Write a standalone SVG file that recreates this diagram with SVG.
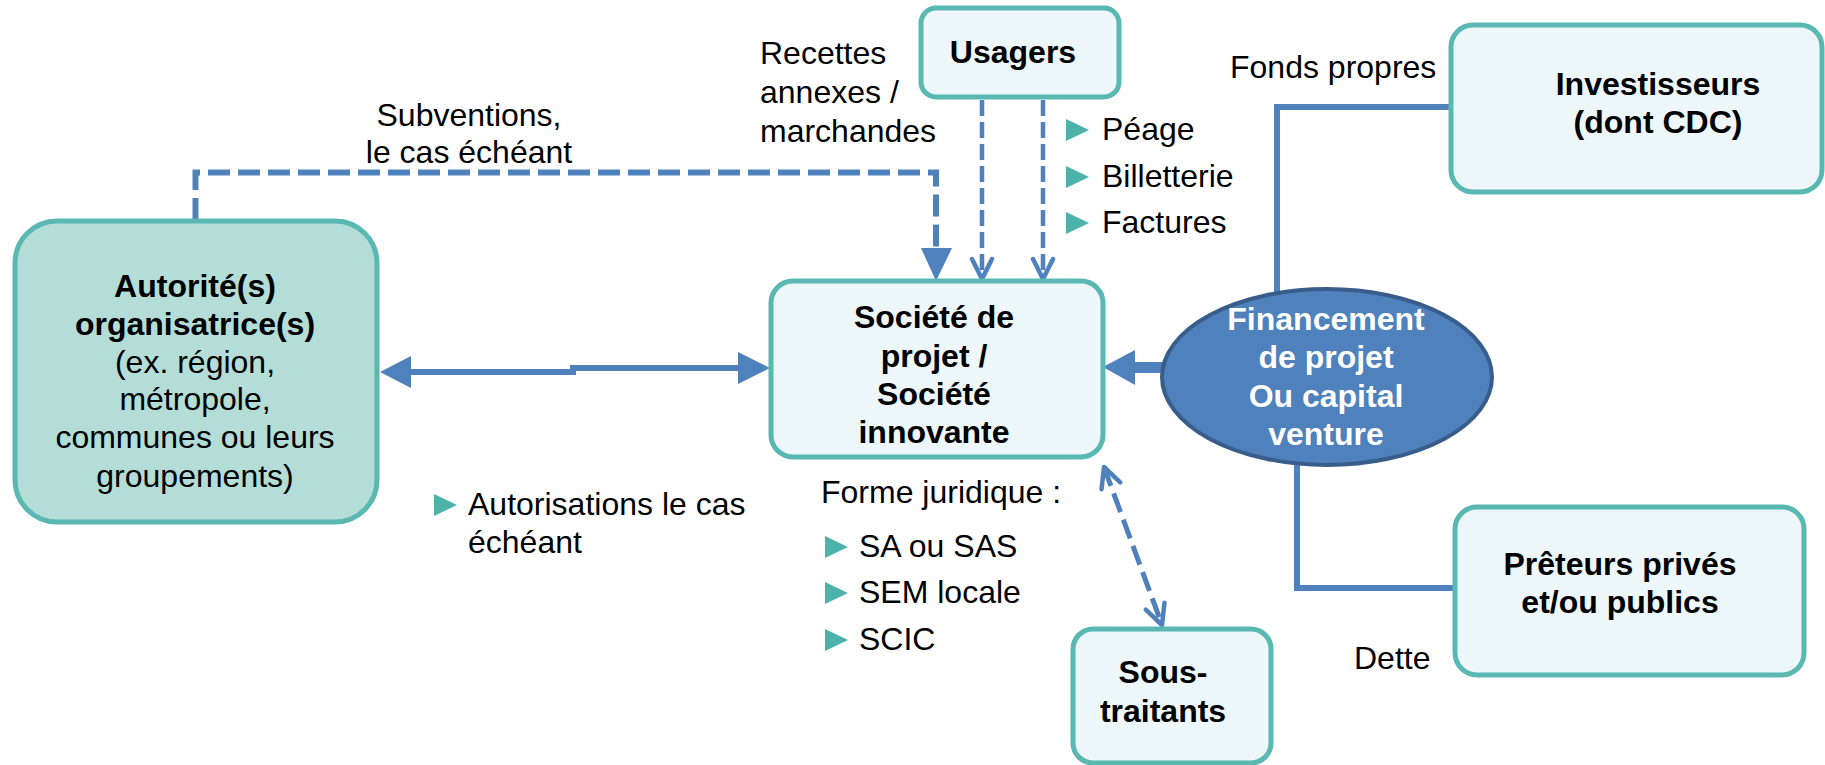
<svg xmlns="http://www.w3.org/2000/svg" width="1825" height="765" viewBox="0 0 1825 765">
<style>
text{font-family:"Liberation Sans",Arial,sans-serif;font-size:32px;fill:#000}
.b{font-weight:bold}
.m{text-anchor:middle}
.w{fill:#fff}
.box{fill:#edf6f9;stroke:#5ab8b2;stroke-width:5}
.auth{fill:#b3ddd6;stroke:#5ab8b2;stroke-width:5}
.solid{fill:none;stroke:#4f81bd;stroke-width:6}
.dash{fill:none;stroke:#4f81bd;stroke-width:6;stroke-dasharray:22 8}
.dashs{fill:none;stroke:#4f81bd;stroke-width:4.5;stroke-dasharray:16 6}
.dashm{fill:none;stroke:#4f81bd;stroke-width:5;stroke-dasharray:20 8}
.head{fill:#4f81bd}
.bul{fill:#4bb3aa}
</style>
<defs>
<marker id="open" viewBox="0 0 26 26" refX="23" refY="13" markerWidth="26" markerHeight="26" markerUnits="userSpaceOnUse" orient="auto-start-reverse">
<path d="M3,3 L23,13 L3,23" fill="none" stroke="#4f81bd" stroke-width="4.5" stroke-linecap="round" stroke-linejoin="round"/>
</marker>
</defs>

<g id="connectors">
<path class="dash" d="M195.5,220 V172.5 H936 V250"/>
<polygon class="head" points="921,248 952,248 936,281"/>
<path class="dashs" d="M982,100 V279" marker-end="url(#open)"/>
<path class="dashs" d="M1043,100 V279" marker-end="url(#open)"/>
<polygon class="head" points="380,372 411,356 411,388"/>
<path class="solid" d="M410,372 H573 V368 H740"/>
<polygon class="head" points="770,368 738,352 738,384"/>
<polygon class="head" points="1103,367 1135,350 1135,385"/>
<rect class="head" x="1134" y="362" width="32" height="11"/>
<path class="solid" d="M1451,107 H1277 V293"/>
<path class="solid" d="M1297,463 V588 H1455"/>
<path class="dashm" d="M1104,467 L1162,625" marker-start="url(#open)" marker-end="url(#open)"/>
</g>

<g id="autorite">
<rect class="auth" x="15" y="221" width="362" height="301" rx="42"/>
<text class="m b" x="195" y="297">Autorité(s)</text>
<text class="m b" x="195" y="335">organisatrice(s)</text>
<text class="m" x="195" y="373">(ex. région,</text>
<text class="m" x="195" y="410">métropole,</text>
<text class="m" x="195" y="448">communes ou leurs</text>
<text class="m" x="195" y="487">groupements)</text>
</g>

<g id="usagers">
<rect class="box" x="921" y="8" width="198" height="89" rx="15"/>
<text class="m b" x="1013" y="63">Usagers</text>
</g>

<g id="societe">
<rect class="box" x="771" y="281" width="332" height="176" rx="22"/>
<text class="m b" x="934" y="328">Société de</text>
<text class="m b" x="934" y="367">projet /</text>
<text class="m b" x="934" y="405">Société</text>
<text class="m b" x="934" y="443">innovante</text>
</g>

<g id="financement">
<ellipse cx="1327" cy="377" rx="165" ry="88" fill="#4f81bd" stroke="#385d8a" stroke-width="4"/>
<text class="m b w" x="1326" y="330">Financement</text>
<text class="m b w" x="1326" y="368">de projet</text>
<text class="m b w" x="1326" y="407">Ou capital</text>
<text class="m b w" x="1326" y="445">venture</text>
</g>

<g id="investisseurs">
<rect class="box" x="1451" y="25" width="371" height="167" rx="22"/>
<text class="m b" x="1658" y="95">Investisseurs</text>
<text class="m b" x="1658" y="133">(dont CDC)</text>
</g>

<g id="preteurs">
<rect class="box" x="1455" y="507" width="349" height="168" rx="22"/>
<text class="m b" x="1620" y="575">Prêteurs privés</text>
<text class="m b" x="1620" y="613">et/ou publics</text>
</g>

<g id="sous-traitants">
<rect class="box" x="1073" y="629" width="198" height="134" rx="20"/>
<text class="m b" x="1163" y="683">Sous-</text>
<text class="m b" x="1163" y="722">traitants</text>
</g>

<g id="labels">
<text class="m" x="469" y="126">Subventions,</text>
<text class="m" x="469" y="163">le cas échéant</text>
<text x="760" y="64">Recettes</text>
<text x="760" y="103">annexes /</text>
<text x="760" y="142">marchandes</text>
<polygon class="bul" points="1066,119 1089,130 1066,141"/>
<text x="1102" y="140">Péage</text>
<polygon class="bul" points="1066,166 1089,177 1066,188"/>
<text x="1102" y="187">Billetterie</text>
<polygon class="bul" points="1066,212 1089,223 1066,234"/>
<text x="1102" y="233">Factures</text>
<text x="1230" y="78">Fonds propres</text>
<polygon class="bul" points="434,494 457,505 434,516"/>
<text x="468" y="515">Autorisations le cas</text>
<text x="468" y="553">échéant</text>
<text x="821" y="503">Forme juridique :</text>
<polygon class="bul" points="825,536 848,547 825,558"/>
<text x="859" y="557">SA ou SAS</text>
<polygon class="bul" points="825,582 848,593 825,604"/>
<text x="859" y="603">SEM locale</text>
<polygon class="bul" points="825,629 848,640 825,651"/>
<text x="859" y="650">SCIC</text>
<text x="1354" y="669">Dette</text>
</g>
</svg>
